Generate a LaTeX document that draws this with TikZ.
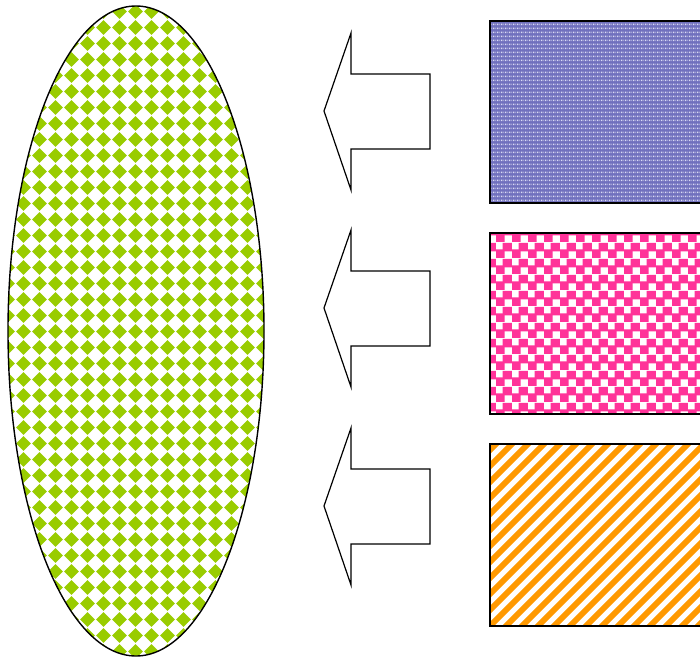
\documentclass[tikz,border=0pt]{standalone}
\usetikzlibrary{patterns.meta,shapes.geometric}
\definecolor{pgreen}{HTML}{99CC00}
\definecolor{ppink}{HTML}{FF3399}
\definecolor{porange}{HTML}{FF9900}
\definecolor{pbluedark}{HTML}{7070BE}
\definecolor{pbluelight}{HTML}{DADAF4}
\tikzdeclarepattern{
  name=greendiam, type=colored,
  bottom left={(0pt,0pt)}, top right={(16pt,16pt)}, tile size={(16pt,16pt)},
  code={
    \fill[pgreen] (8pt,0.2pt) -- (15.8pt,8pt) -- (8pt,15.8pt) -- (0.2pt,8pt) -- cycle;
  }
}
\tikzdeclarepattern{
  name=pinkcheck, type=colored,
  bottom left={(0pt,0pt)}, top right={(16pt,16pt)}, tile size={(16pt,16pt)},
  code={
    \fill[ppink] (0pt,0pt) rectangle (9pt,9pt);
    \fill[ppink] (7pt,7pt) rectangle (16pt,16pt);
  }
}
\tikzdeclarepattern{
  name=bluedots, type=colored,
  bottom left={(0pt,0pt)}, top right={(4pt,4pt)}, tile size={(4pt,4pt)},
  code={
    \fill[pbluelight] (1pt,1pt) rectangle (3pt,3pt);
  }
}
\tikzset{
  outline/.style={draw=black, line width=1.4pt},
  blockarrow/.style={draw=black, line width=1.2pt, fill=white, line join=miter},
  panel/.style={outline},
  stripe/.style={draw=porange, line width=5.7pt},
}
\begin{document}
\begin{tikzpicture}[x=1pt,y=-1pt]
\useasboundingbox (0,0) rectangle (700,658);
\clip (0,0) rectangle (700,658);
% ellipse
\node[ellipse, outline, preaction={fill=white}, pattern=greendiam, minimum width=256pt, minimum height=650pt, inner sep=0pt] (ell) at (136,331) {};
% rectangles
\draw[panel, preaction={fill=pbluedark}, pattern=bluedots] (490,21) rectangle (705,203);
\draw[panel, preaction={fill=white}, pattern=pinkcheck] (490,233) rectangle (705,414);
\begin{scope}
  \clip (490,444) rectangle (705,626);
  \fill[white] (490,444) rectangle (705,626);
  \foreach \k in {0,...,26} {
    \draw[stripe] ({300+16*\k},640) -- ({300+16*\k+210},430);
  }
\end{scope}
\draw[panel] (490,444) rectangle (705,626);
\node[inner sep=0pt] (r1) at (597,112) {};
\node[inner sep=0pt] (r2) at (597,323) {};
\node[inner sep=0pt] (r3) at (597,535) {};
% arrows
\foreach \c/\n in {111/a1, 308/a2, 506/a3} {
  \coordinate (\n) at (324,\c);
  \draw[blockarrow] (\n) -- ++(27,-78) -- ++(0,41) -- ++(79,0) -- ++(0,75) -- ++(-79,0) -- ++(0,41) -- cycle;
}
\end{tikzpicture}
\end{document}
